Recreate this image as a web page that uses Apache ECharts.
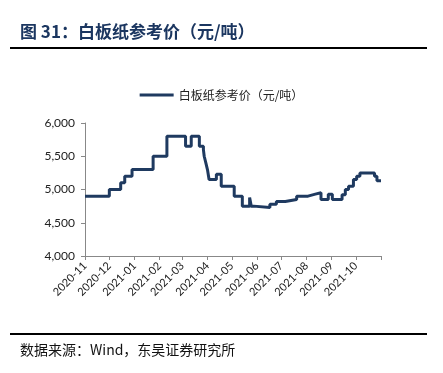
<!DOCTYPE html>
<html><head><meta charset="utf-8">
<script src="https://cdn.jsdelivr.net/npm/echarts@6/dist/echarts.min.js"></script>
<style>
html,body{margin:0;padding:0;background:#fff;}
#wrap{position:relative;width:443px;height:373px;}
#chart{position:absolute;left:0;top:0;width:443px;height:373px;}
</style></head>
<body><div id="wrap"><div id="chart"></div></div>
<script>
const seriesName = '白板纸参考价（元/吨）';
const titleText = '图 31：白板纸参考价（元/吨）';
const sourceText = '数据来源：Wind，东吴证券研究所';
const dates = ['2020-11-01','2020-12-01','2020-12-15','2020-12-20','2020-12-29','2021-01-24','2021-02-10','2021-03-05','2021-03-12','2021-03-22','2021-03-24','2021-03-27','2021-03-28','2021-03-30','2021-04-01','2021-04-03','2021-04-12','2021-04-18','2021-05-04','2021-05-14','2021-05-23','2021-05-25','2021-05-28','2021-06-17','2021-06-25','2021-07-06','2021-07-20','2021-08-03','2021-08-12','2021-08-19','2021-08-28','2021-09-02','2021-09-14','2021-09-18','2021-09-22','2021-09-28','2021-10-02','2021-10-06','2021-10-24','2021-10-27','2021-11-01'];
const values = [4900,5000,5100,5200,5300,5500,5800,5650,5800,5650,5650,5600,5500,5400,5300,5150,5230,5050,4900,4750,4880,4750,4730,4780,4820,4850,4900,4930,4950,4850,4930,4850,4920,5000,5050,5150,5200,5250,5200,5130,5130];
const yTicks = [4000,4500,5000,5500,6000];
const lastLabelDate = '2021-10';

const chart = echarts.init(document.getElementById('chart'));
chart.setOption({
  animation:false,
  graphic:[
    {type:'text',left:20,top:23,style:{text:titleText,font:'bold 17px "Noto Sans CJK SC"',fill:'#1b3660'}},
    {type:'rect',shape:{x:10,y:47,width:417,height:2},style:{fill:'#000'}},
    {type:'rect',shape:{x:10,y:333,width:417,height:2},style:{fill:'#000'}},
    {type:'text',left:20,top:343,style:{text:sourceText,font:'14px "Noto Sans CJK SC"',fill:'#111'}}
  ],
  legend:{top:84,left:'center',itemWidth:34,itemHeight:3,icon:'rect',
    textStyle:{fontSize:12,color:'#222',fontFamily:'"Noto Sans CJK SC"'},data:[seriesName]},
  grid:{left:85,right:62,top:123,bottom:117},
  xAxis:{type:'time',min:'2020-11-01',max:'2021-11-01',
    minInterval:28*86400000,maxInterval:31*86400000,
    axisLine:{lineStyle:{color:'#888',width:1}},
    axisTick:{show:true,length:4,lineStyle:{color:'#888'}},
    splitLine:{show:false},
    axisLabel:{rotate:45,fontSize:11,color:'#222',margin:8,fontFamily:'Lato',
      formatter:function(v){
        const d=new Date(v);
        const s=d.getFullYear()+'-'+String(d.getMonth()+1).padStart(2,'0');
        return s>lastLabelDate?'':s;
      }}
  },
  yAxis:{type:'value',min:yTicks[0],max:yTicks[yTicks.length-1],interval:500,
    axisLine:{show:true,lineStyle:{color:'#888'}},
    axisTick:{show:true,length:4,lineStyle:{color:'#888'}},
    splitLine:{show:false},
    axisLabel:{fontSize:12,color:'#222',margin:10,fontFamily:'Lato',
      formatter:v=>v.toLocaleString('en-US')}
  },
  series:[{name:seriesName,type:'line',step:'end',showSymbol:false,
    data:dates.map((d,i)=>[d,values[i]]),
    lineStyle:{color:'#1f3a60',width:3},itemStyle:{color:'#1f3a60'}}]
});
</script></body></html>
